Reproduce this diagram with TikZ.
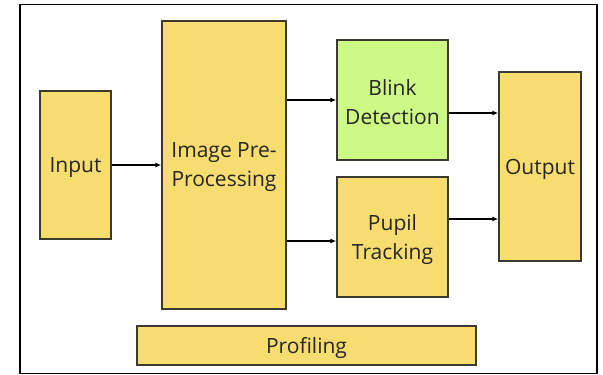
\documentclass[tikz,border=0pt]{standalone}
\usepackage{fontspec}
\setmainfont{Open Sans}
\usetikzlibrary{arrows.meta}
\definecolor{boxyellow}{HTML}{F7DC6F}
\definecolor{boxgreen}{HTML}{CCFA84}
\definecolor{boxedge}{HTML}{3C3A2E}
\tikzset{
  blk/.style={draw=boxedge, line width=1.3pt, fill=boxyellow, inner sep=0pt},
  lbl/.style={font=\fontsize{21}{29}\selectfont, text=black!85, align=center, inner sep=0pt, yshift=-2.5pt},
  conn/.style={-{Latex[length=6pt,width=5pt]}, line width=1.2pt}
}
\begin{document}
\begin{tikzpicture}[x=1pt,y=-1pt]
\useasboundingbox (0,0) rectangle (603,375);
\draw[line width=1.6pt] (20,4.5) rectangle (597,373.5);
\node[blk, minimum width=71pt, minimum height=148pt, label={[lbl]center:Input}] (in) at (75.5,165) {};
\node[blk, minimum width=124pt, minimum height=288pt, label={[lbl]center:Image Pre-\\Processing}] (pre) at (224,165) {};
\node[blk, fill=boxgreen, minimum width=111pt, minimum height=120pt, label={[lbl]center:Blink\\Detection}] (blink) at (392.5,100) {};
\node[blk, minimum width=111pt, minimum height=120pt, label={[lbl]center:Pupil\\Tracking}] (pupil) at (392.5,237) {};
\node[blk, minimum width=82pt, minimum height=189pt, label={[lbl]center:Output}] (out) at (540,166.5) {};
\node[blk, minimum width=339pt, minimum height=39pt, label={[lbl]center:Profiling}] (prof) at (306.5,345.5) {};
\draw[conn] (in.east) -- (pre.west |- in.east);
\draw[conn] (pre.east |- 0,100) -- (blink.west |- 0,100);
\draw[conn] (pre.east |- 0,241) -- (pupil.west |- 0,241);
\draw[conn] (blink.east |- 0,113) -- (out.west |- 0,113);
\draw[conn] (pupil.east |- 0,219) -- (out.west |- 0,219);
\end{tikzpicture}
\end{document}
